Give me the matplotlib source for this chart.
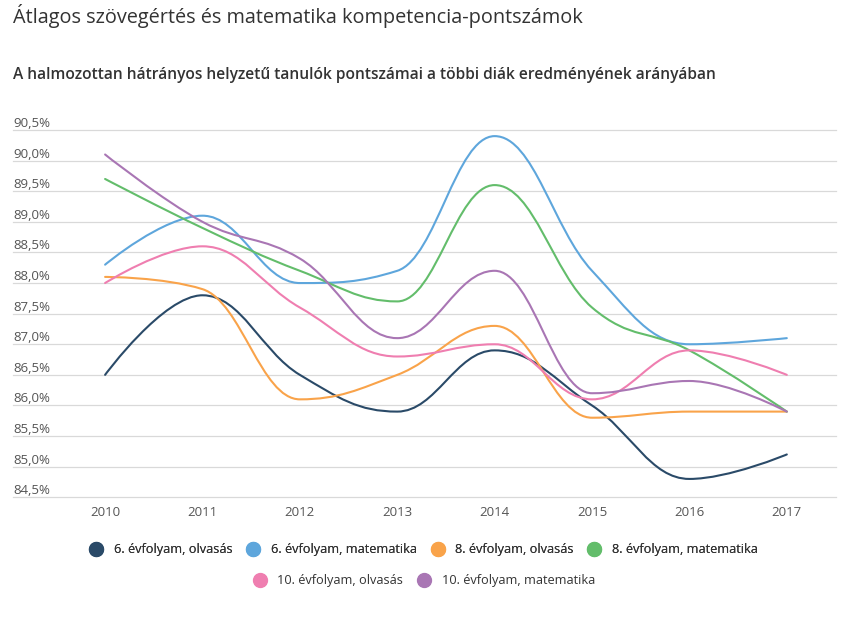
import matplotlib
matplotlib.use('Agg')
import matplotlib.pyplot as plt
import matplotlib.transforms as mtransforms
from matplotlib.path import Path
from matplotlib.patches import PathPatch
from matplotlib.lines import Line2D

plt.rcParams['font.family'] = ['Open Sans', 'DejaVu Sans']

years = ['2010', '2011', '2012', '2013', '2014', '2015', '2016', '2017']
s6_olv = [86.5, 87.8, 86.5, 85.9, 86.9, 86.0, 84.8, 85.2]
s6_mat = [88.3, 89.1, 88.0, 88.2, 90.4, 88.2, 87.0, 87.1]
s8_olv = [88.1, 87.9, 86.1, 86.5, 87.3, 85.8, 85.9, 85.9]
s8_mat = [89.7, 88.9, 88.2, 87.7, 89.6, 87.6, 86.9, 85.9]
s10_olv = [88.0, 88.6, 87.6, 86.8, 87.0, 86.1, 86.9, 86.5]
s10_mat = [90.1, 89.0, 88.4, 87.1, 88.2, 86.2, 86.4, 85.9]
series_names = ['6. évfolyam, olvasás', '6. évfolyam, matematika',
                '8. évfolyam, olvasás', '8. évfolyam, matematika',
                '10. évfolyam, olvasás', '10. évfolyam, matematika']
series_values = [s6_olv, s6_mat, s8_olv, s8_mat, s10_olv, s10_mat]
colors = ['#2a4a68', '#5ea6dc', '#f9a34a', '#63bd6b', '#ef7eb0', '#a976b4']
y_ticks = [84.5, 85.0, 85.5, 86.0, 86.5, 87.0, 87.5, 88.0, 88.5, 89.0, 89.5, 90.0, 90.5]

title = 'Átlagos szövegértés és matematika kompetencia-pontszámok'
subtitle = 'A halmozottan hátrányos helyzetű tanulók pontszámai a többi diák eredményének arányában'


def hc_spline(xs, ys, smoothing=1.5):
    n = len(xs)
    denom = smoothing + 1
    lc = [None] * n
    rc = [None] * n
    for i in range(1, n - 1):
        px, py = xs[i], ys[i]
        lx, ly = xs[i - 1], ys[i - 1]
        nx, ny = xs[i + 1], ys[i + 1]
        lcx = (smoothing * px + lx) / denom
        lcy = (smoothing * py + ly) / denom
        rcx = (smoothing * px + nx) / denom
        rcy = (smoothing * py + ny) / denom
        corr = (rcy - lcy) * (rcx - px) / (rcx - lcx) + py - rcy
        lcy += corr
        rcy += corr
        if lcy > ly and lcy > py:
            lcy = max(ly, py); rcy = 2 * py - lcy
        elif lcy < ly and lcy < py:
            lcy = min(ly, py); rcy = 2 * py - lcy
        if rcy > ny and rcy > py:
            rcy = max(ny, py); lcy = 2 * py - rcy
        elif rcy < ny and rcy < py:
            rcy = min(ny, py); lcy = 2 * py - rcy
        lc[i] = (lcx, lcy)
        rc[i] = (rcx, rcy)
    verts = [(xs[0], ys[0])]
    codes = [Path.MOVETO]
    for i in range(1, n):
        c1 = rc[i - 1] if rc[i - 1] is not None else (xs[i - 1], ys[i - 1])
        c2 = lc[i] if lc[i] is not None else (xs[i], ys[i])
        verts += [c1, c2, (xs[i], ys[i])]
        codes += [Path.CURVE4] * 3
    return Path(verts, codes)


W, H = 848, 621
fig = plt.figure(figsize=(W / 100, H / 100), dpi=100)
ax_left, ax_right, ax_top, ax_bottom = 56.4, 835.5, 130.0, 497.3
ax = fig.add_axes([ax_left / W, 1 - ax_bottom / H, (ax_right - ax_left) / W, (ax_bottom - ax_top) / H])
ax.set_xlim(-0.5, len(years) - 0.5)
ax.set_ylim(y_ticks[0], y_ticks[-1])
for s in ax.spines.values():
    s.set_visible(False)
ax.set_yticks([])
xpos = list(range(len(years)))
ax.set_xticks(xpos)
ax.set_xticklabels(years, color='#555555', fontsize=9.5)
ax.tick_params(axis='x', length=0, pad=6)

blend = mtransforms.blended_transform_factory(ax.transAxes, ax.transData)
x0 = (13 - ax_left) / (ax_right - ax_left)
lab_tr = blend + mtransforms.ScaledTranslation(0, 3 / 100, fig.dpi_scale_trans)
for v in y_ticks:
    ax.plot([x0, 1], [v, v], transform=blend, clip_on=False, color='#d9d9d9', lw=0.9, zorder=0)
    ax.text(x0, v, f'{v:.1f}%'.replace('.', ','), transform=lab_tr, ha='left', va='baseline',
            fontsize=9.5, color='#555555')

for vals, col in zip(series_values, colors):
    p = hc_spline(xpos, vals)
    ax.add_patch(PathPatch(p, fill=False, edgecolor=col, lw=1.5, capstyle='round', joinstyle='round', zorder=3))

fig.text(13 / W, 1 - 16 / H, title, fontsize=14.3, color='#333333', ha='left', va='center')
fig.text(13 / W, 1 - 75 / H, subtitle, fontsize=11.2, color='#333333', ha='left', va='center', weight=600)

handles = [Line2D([], [], marker='o', linestyle='none', markersize=10, markerfacecolor=c, markeredgecolor=c)
           for c in colors]
leg_kw = dict(frameon=False, fontsize=9.2, handlelength=1.0, handletextpad=0.9, columnspacing=1.1,
              labelcolor='#333333', loc='center', borderpad=0, borderaxespad=0)
leg1 = fig.legend(handles[:4], series_names[:4], ncol=4, bbox_to_anchor=(0.5, 1 - 549.7 / H), **leg_kw)
fig.add_artist(leg1)
leg2 = fig.legend(handles[4:], series_names[4:], ncol=2, bbox_to_anchor=(0.5, 1 - 580.5 / H), **leg_kw)

fig.savefig('out.png', dpi=100, facecolor='white')
